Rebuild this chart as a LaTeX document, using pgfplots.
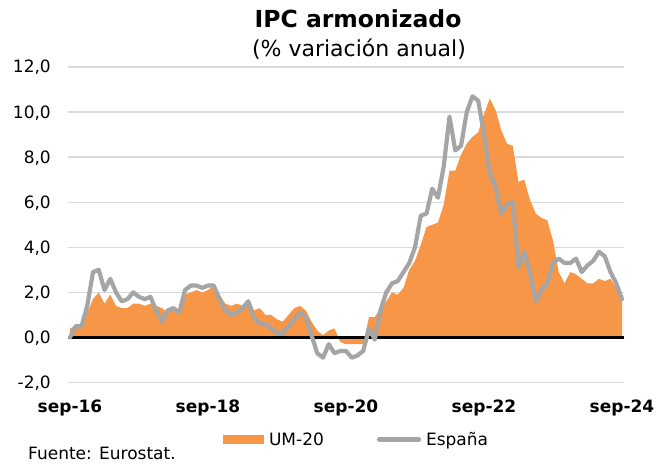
\documentclass[border=0pt]{standalone}
\usepackage{pgfplots}
\usepackage{pgfplotstable}
\pgfplotsset{compat=1.18}
\usepackage{fontspec}
\setmainfont{DejaVu Sans}
\definecolor{umorange}{HTML}{F79646}
\definecolor{esgray}{HTML}{A5A5A5}
\definecolor{gridgray}{HTML}{D9D9D9}
\pgfplotstableread{
m um es
0 0.4 0.0
1 0.5 0.5
2 0.6 0.5
3 1.1 1.4
4 1.7 2.9
5 2.0 3.0
6 1.5 2.1
7 1.9 2.6
8 1.4 2.0
9 1.3 1.6
10 1.3 1.7
11 1.5 2.0
12 1.5 1.8
13 1.4 1.7
14 1.5 1.8
15 1.4 1.2
16 1.3 0.7
17 1.1 1.2
18 1.3 1.3
19 1.2 1.1
20 1.9 2.1
21 2.0 2.3
22 2.1 2.3
23 2.0 2.2
24 2.1 2.3
25 2.3 2.3
26 1.9 1.7
27 1.5 1.2
28 1.4 1.0
29 1.5 1.1
30 1.4 1.3
31 1.7 1.6
32 1.2 0.9
33 1.3 0.6
34 1.0 0.6
35 1.0 0.4
36 0.8 0.2
37 0.7 0.2
38 1.0 0.5
39 1.3 0.8
40 1.4 1.1
41 1.2 0.9
42 0.7 0.1
43 0.3 -0.7
44 0.1 -0.9
45 0.3 -0.3
46 0.4 -0.7
47 -0.2 -0.6
48 -0.3 -0.6
49 -0.3 -0.9
50 -0.3 -0.8
51 -0.3 -0.6
52 0.9 0.4
53 0.9 -0.1
54 1.3 1.2
55 1.6 2.0
56 2.0 2.4
57 1.9 2.5
58 2.2 2.9
59 3.0 3.3
60 3.4 4.0
61 4.1 5.4
62 4.9 5.5
63 5.0 6.6
64 5.1 6.2
65 5.9 7.6
66 7.4 9.8
67 7.4 8.3
68 8.1 8.5
69 8.6 10.0
70 8.9 10.7
71 9.1 10.5
72 9.9 9.0
73 10.6 7.3
74 10.1 6.7
75 9.2 5.5
76 8.6 5.9
77 8.5 6.0
78 6.9 3.1
79 7.0 3.8
80 6.1 2.9
81 5.5 1.6
82 5.3 2.1
83 5.2 2.4
84 4.3 3.3
85 2.9 3.5
86 2.4 3.3
87 2.9 3.3
88 2.8 3.5
89 2.6 2.9
90 2.4 3.2
91 2.4 3.4
92 2.6 3.8
93 2.5 3.6
94 2.6 2.9
95 2.2 2.4
96 1.7 1.7
}\datatable
\begin{document}
\begin{tikzpicture}
\useasboundingbox (0,0) rectangle (656pt,464pt);
\begin{axis}[
  at={(68pt,81.5pt)}, anchor=south west,
  scale only axis, width=556pt, height=315.5pt,
  xmin=-0.35, xmax=96.35, ymin=-2, ymax=12,
  xtick={0,24,48,72,96},
  xticklabels={sep-16,sep-18,sep-20,sep-22,sep-24},
  ytick={-2,0,2,4,6,8,10,12},
  yticklabels={{-2,0},{0,0},{2,0},{4,0},{6,0},{8,0},{10,0},{12,0}},
  axis line style={draw=none},
  major tick length=0pt,
  ymajorgrids,
  grid style={color=gridgray, line width=1.3pt},
  xticklabel style={font=\bfseries\fontsize{17}{20}\selectfont, anchor=base, inner sep=0pt, yshift=-30pt},
  yticklabel style={font=\fontsize{17}{20}\selectfont, anchor=base east, inner sep=0pt, xshift=-17pt, yshift=-6pt},
  clip=false,
  legend columns=2,
  legend style={draw=none, fill=none, inner sep=0pt, outer sep=0pt,
    at={(axis description cs:0.2788,-0.1807)}, anchor=west,
    font=\fontsize{17}{20}\selectfont,
    nodes={inner sep=0pt, text height=12.4pt, text depth=0pt},
    /tikz/every odd column/.append style={column sep=5pt},
    /tikz/every even column/.append style={column sep=53pt}},
]
\addplot[fill=umorange, draw=none,
  legend image code/.code={\fill[umorange] (0pt,-4.5pt) rectangle (41pt,4.5pt);}]
  table[x=m,y=um]{\datatable} \closedcycle;
\addlegendentry{UM-20}
\addplot[black, line width=3.5pt, forget plot] coordinates {(-0.35,0) (96.35,0)};
\addplot[esgray, line width=4.2pt, line join=round, line cap=round,
  legend image code/.code={\draw[esgray, line width=4.2pt, line cap=round] (2pt,0pt) -- (42pt,0pt);}]
  table[x=m,y=es]{\datatable};
\addlegendentry{España}
\end{axis}
\node[anchor=base, inner sep=0pt, font=\bfseries\fontsize{23.5}{28}\selectfont] at (358pt,436pt) {IPC armonizado};
\node[anchor=base, inner sep=0pt, font=\fontsize{22}{26}\selectfont] at (359pt,407pt) {(\% variación anual)};
\node[anchor=base west, inner sep=0pt, font=\fontsize{17}{20}\selectfont] at (28pt,5pt) {Fuente: Eurostat.};
\end{tikzpicture}
\end{document}
